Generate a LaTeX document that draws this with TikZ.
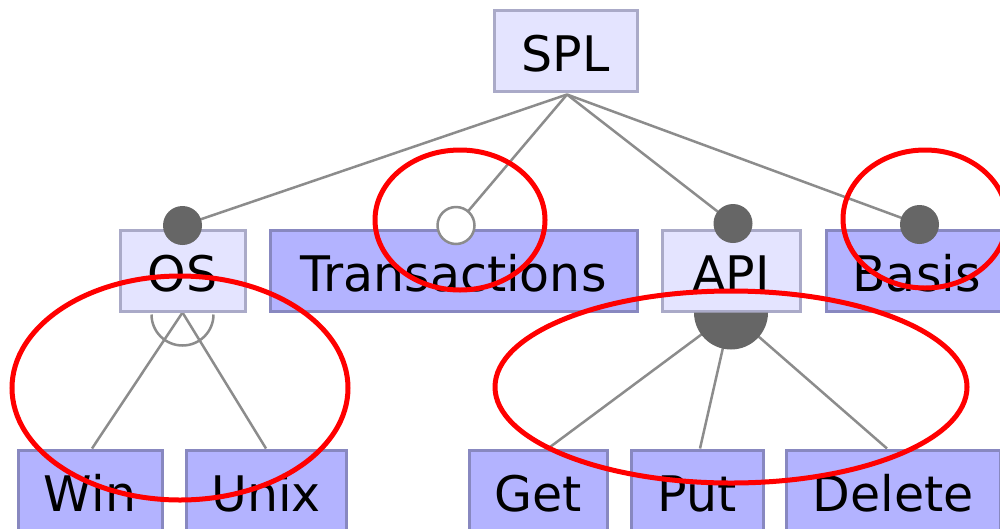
\documentclass[tikz,border=0pt]{standalone}
\usepackage{fontspec}
\setmainfont{DejaVu Sans}
\usetikzlibrary{calc,backgrounds}
\definecolor{lightfill}{RGB}{228,228,255}
\definecolor{lightdraw}{RGB}{170,170,200}
\definecolor{darkfill}{RGB}{179,179,255}
\definecolor{darkdraw}{RGB}{136,136,192}
\definecolor{edgegray}{RGB}{140,140,140}
\definecolor{dotgray}{RGB}{102,102,102}
\begin{document}
\begin{tikzpicture}[x=1pt,y=-1pt,
 feat/.style={rectangle, inner sep=0pt, line width=3pt, minimum height=81pt,
   text height=42pt, text depth=0pt, font=\fontsize{49}{58}\selectfont},
 abstractf/.style={feat, fill=lightfill, draw=lightdraw},
 concretef/.style={feat, fill=darkfill, draw=darkdraw},
 conn/.style={draw=edgegray, line width=2.5pt},
 mandatory/.style={circle, fill=dotgray, minimum size=39pt, inner sep=0pt},
 optionalf/.style={circle, fill=white, draw=edgegray, line width=2.5pt, minimum size=37pt, inner sep=0pt},
 annot/.style={draw=red, line width=5pt}]
\clip (0,0) rectangle (1000,528);
% features
\node[abstractf, minimum width=143pt] (spl) at (565.5,50.5) {SPL};
\node[abstractf, minimum width=125pt] (os) at (182.5,270.5) {OS};
\node[concretef, minimum width=367pt] (trans) at (453.5,270.5) {Transactions};
\node[abstractf, minimum width=138pt] (api) at (731,270.5) {API};
\node[concretef, minimum width=181pt] (basis) at (916.5,270.5) {Basis};
\node[concretef, minimum width=144pt] (win) at (90,490.5) {Win};
\node[concretef, minimum width=160pt] (unix) at (266,490.5) {Unix};
\node[concretef, minimum width=138pt] (get) at (538,490.5) {Get};
\node[concretef, minimum width=132pt] (put) at (697,490.5) {Put};
\node[concretef, minimum width=214pt] (del) at (893,490.5) {Delete};
% markers
\node[mandatory] (osdot) at ($(os.north)+(0,-3)$) {};
\node[optionalf] (transdot) at ($(trans.north)+(2.5,-3)$) {};
\node[mandatory] (apidot) at ($(api.north)+(2,-5)$) {};
\node[mandatory] (basisdot) at ($(basis.north)+(3,-4)$) {};
\coordinate (splb) at ($(spl.south)+(1.5,2)$);
\begin{scope}[on background layer]
\fill[white] (0,0) rectangle (1000,528);
\draw[conn] (splb) -- (osdot.center);
\draw[conn] (splb) -- (transdot.center);
\draw[conn] (splb) -- (apidot.center);
\draw[conn] (splb) -- (basisdot.center);
\draw[conn] (os.south) -- ($(win.north)+(2,0)$);
\draw[conn] (os.south) -- (unix.north);
\draw[conn] (api.south) -- ($(get.north)+(10,0)$);
\draw[conn] (api.south) -- ($(put.north)+(3,0)$);
\draw[conn] (api.south) -- ($(del.north)+(-6,0)$);
\end{scope}
% group symbols
\draw[conn] ($(os.south)+(-31pt,2)$) arc[start angle=180, end angle=360, radius=31pt];
\fill[dotgray] ($(api.south)+(-37pt,0)$) arc[start angle=180, end angle=360, radius=37pt] -- cycle;
% annotations
\draw[annot] (460,220) ellipse [x radius=85pt, y radius=70pt];
\draw[annot] (925,219) ellipse [x radius=82pt, y radius=69pt];
\draw[annot] (180,388) ellipse [x radius=168pt, y radius=112pt];
\draw[annot] (731,387) ellipse [x radius=236pt, y radius=96pt];
\end{tikzpicture}
\end{document}
